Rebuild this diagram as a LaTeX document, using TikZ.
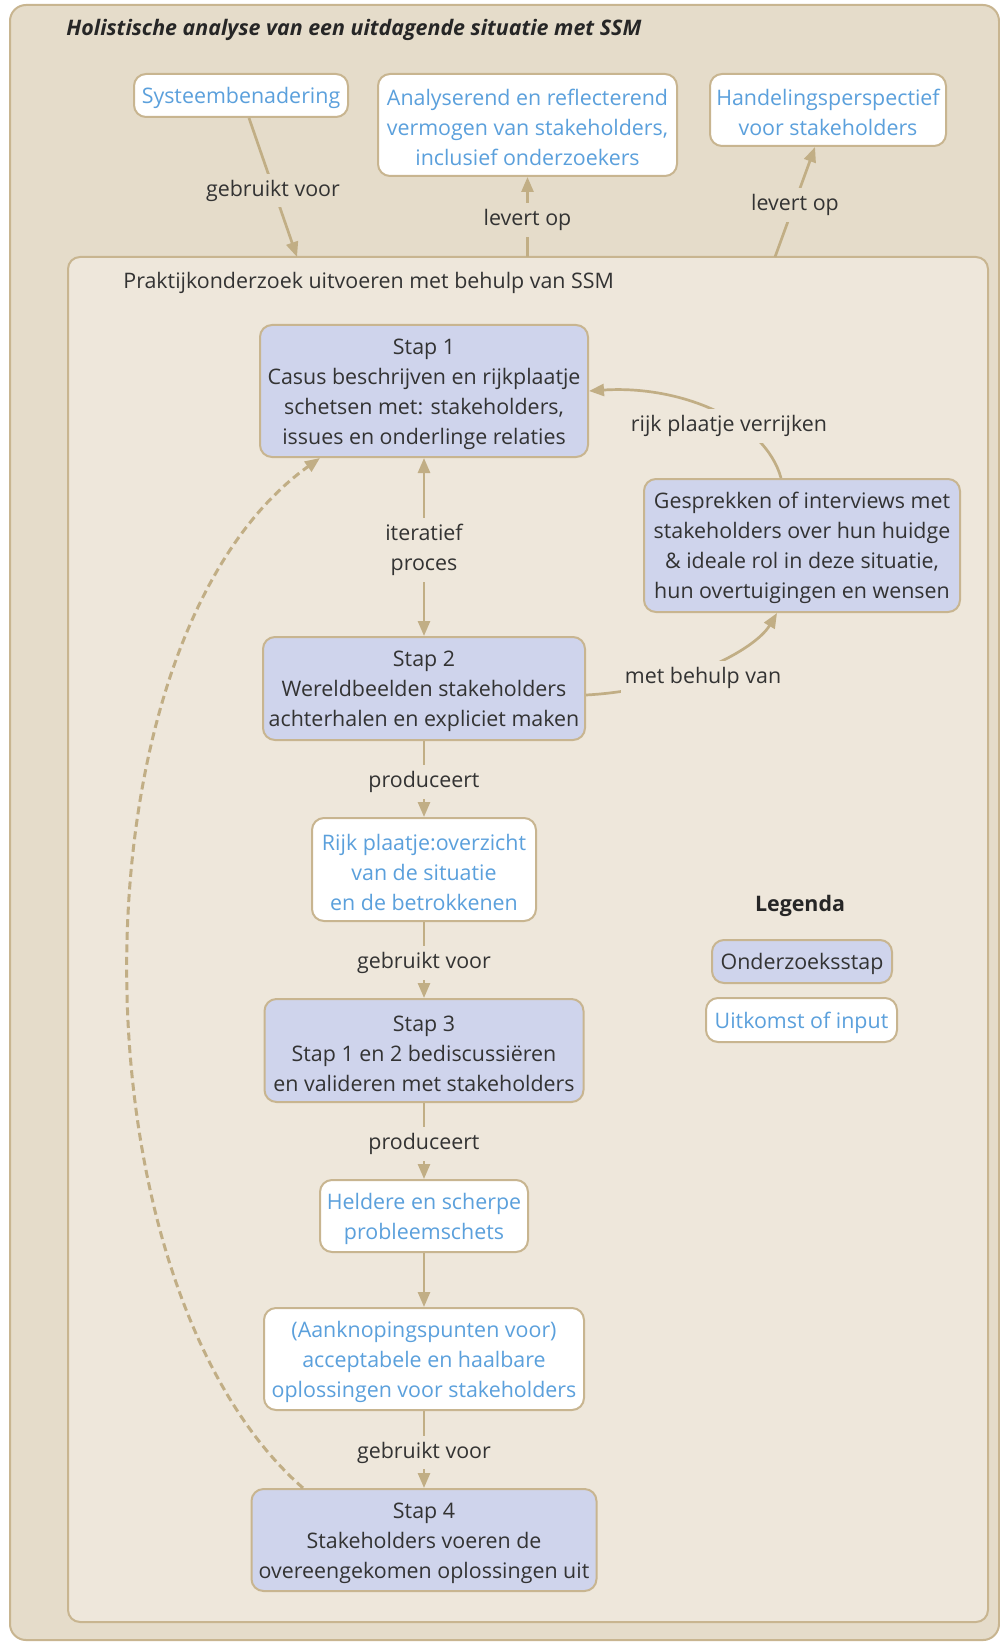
\documentclass[tikz,border=0pt]{standalone}
\usepackage{fontspec}
\setmainfont{Open Sans}
\usetikzlibrary{arrows.meta,calc}
\definecolor{outerbg}{HTML}{E5DCCA}
\definecolor{innerbg}{HTML}{EEE7DB}
\definecolor{stepfill}{HTML}{CFD4EC}
\definecolor{boxline}{HTML}{C8B590}
\definecolor{arrowc}{HTML}{C1AE85}
\definecolor{bluetxt}{HTML}{5BA0DC}
\definecolor{darktxt}{HTML}{333333}
\newcommand\up{\rule{0pt}{11pt}}
\begin{document}
\begin{tikzpicture}[x=0.5pt,y=-0.5pt,
  every node/.style={font=\fontsize{10.7}{15}\selectfont, text=darktxt},
  stepbox/.style={draw=boxline, line width=1pt, fill=stepfill, rounded corners=6pt, align=center, inner sep=0pt},
  outbox/.style={draw=boxline, line width=1pt, fill=white, rounded corners=6pt, align=center, inner sep=0pt, text=bluetxt},
  tip/.style={-{Triangle[length=7.5pt,width=6pt]}},
  conn/.style={draw=arrowc, line width=1.35pt, tip},
  lblo/.style={fill=outerbg, inner xsep=2pt, inner ysep=3pt, align=center, yshift=-1.5pt},
  lbli/.style={fill=innerbg, inner xsep=2pt, inner ysep=3pt, align=center, yshift=-1.5pt},
]
\useasboundingbox (0,0) rectangle (1000,1642);
\fill[white] (0,0) rectangle (1000,1642);
% outer frame
\draw[fill=outerbg, draw=boxline, line width=1pt, rounded corners=8pt] (10,5) rectangle (999,1640);
\node[anchor=west, inner sep=0pt, font=\fontsize{10.7}{12}\selectfont\bfseries\itshape, text=black!85] (title) at (66,30) {Holistische analyse van een uitdagende situatie met SSM};
% top boxes
\node[outbox, minimum width=107pt, minimum height=21.5pt] (sys) at (241,95.5) {\up Systeembenadering};
\node[outbox, minimum width=149.5pt, minimum height=51pt] (ana) at (527.5,125) {\up Analyserend en reflecterend\\vermogen van stakeholders,\\inclusief onderzoekers};
\node[outbox, minimum width=118pt, minimum height=36pt] (hand) at (828,110) {\up Handelingsperspectief\\voor stakeholders};
% inner frame
\draw[fill=innerbg, draw=boxline, line width=1pt, rounded corners=6pt] (68,257) rectangle (988,1622);
\node[anchor=west, inner sep=0pt] (prak) at (123,283) {Praktijkonderzoek uitvoeren met behulp van SSM};
\coordinate (i1) at (297,257);
\coordinate (i2) at (527.5,257);
\coordinate (i3) at (775,257);
% steps and outcomes
\node[stepbox, minimum width=164pt, minimum height=66pt] (s1) at (424,391) {\up Stap 1\\Casus beschrijven en rijkplaatje\\schetsen met: stakeholders,\\issues en onderlinge relaties};
\node[stepbox, minimum width=158pt, minimum height=66.5pt] (gesp) at (802,545.5) {\up Gesprekken of interviews met\\stakeholders over hun huidge\\\& ideale rol in deze situatie,\\hun overtuigingen en wensen};
\node[stepbox, minimum width=161pt, minimum height=51.5pt] (s2) at (424,688.5) {\up Stap 2\\Wereldbeelden stakeholders\\achterhalen en expliciet maken};
\node[outbox, minimum width=112pt, minimum height=51.5pt] (rijk) at (424,869.5) {\up Rijk plaatje:overzicht\\van de situatie\\en de betrokkenen};
\node[stepbox, minimum width=159.5pt, minimum height=51.5pt] (s3) at (424,1050.5) {\up Stap 3\\Stap 1 en 2 bediscussiëren\\en valideren met stakeholders};
\node[outbox, minimum width=104pt, minimum height=36pt] (held) at (424,1216) {\up Heldere en scherpe\\probleemschets};
\node[outbox, minimum width=160pt, minimum height=51pt] (aank) at (424,1359) {\up (Aanknopingspunten voor)\\acceptabele en haalbare\\oplossingen voor stakeholders};
\node[stepbox, minimum width=172.5pt, minimum height=51pt] (s4) at (424,1540) {\up Stap 4\\Stakeholders voeren de\\overeengekomen oplossingen uit};
% legend
\node[font=\fontsize{10.7}{15}\selectfont\bfseries, text=black!85] (leg) at (800,906) {Legenda};
\node[stepbox, minimum width=90pt, minimum height=21.5pt] (leg1) at (802,961.5) {\up Onderzoeksstap};
\node[outbox, minimum width=95.5pt, minimum height=22pt] (leg2) at (801.5,1020) {\up Uitkomst of input};
% connectors
\draw[conn] ([xshift=4pt]sys.south) -- (i1) node[midway, lblo] {gebruikt voor};
\draw[conn] (i2) -- (ana.south) node[midway, lblo] {levert op};
\draw[conn] (i3) -- ([xshift=-6.5pt]hand.south) node[midway, lblo] {levert op};
\draw[conn, {Triangle[length=7.5pt,width=6pt]}-{Triangle[length=7.5pt,width=6pt]}] (s1.south) -- (s2.north) node[midway, lbli] {iteratief\\proces};
\draw[conn] ([xshift=-10.5pt]gesp.north) .. controls (765,420) and (680,385) .. (s1.east);
\node[lbli] (l1) at (729,423) {rijk plaatje verrijken};
\draw[conn] ([yshift=-3.25pt]s2.east) .. controls (680,690) and (755,650) .. ([xshift=-12.5pt]gesp.south);
\node[lbli] (l2) at (703,675) {met behulp van};
\draw[conn] (s2.south) -- (rijk.north) node[midway, lbli] {produceert};
\draw[conn] (rijk.south) -- (s3.north) node[midway, lbli] {gebruikt voor};
\draw[conn] (s3.south) -- (held.north) node[midway, lbli] {produceert};
\draw[conn] (held.south) -- (aank.north);
\draw[conn] (aank.south) -- (s4.north) node[midway, lbli] {gebruikt voor};
\draw[conn, line width=1.5pt, dash pattern=on 4pt off 2.3pt] ([xshift=-60.5pt]s4.north) .. controls (67,1281) and (67,639) .. ([xshift=-52pt]s1.south);
\end{tikzpicture}
\end{document}
